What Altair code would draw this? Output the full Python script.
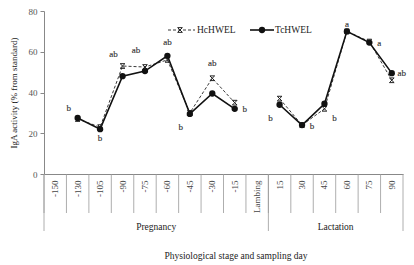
import altair as alt
import pandas as pd

categories = ["-150", "-130", "-105", "-90", "-75", "-60", "-45", "-30", "-15",
              "Lambing", "15", "30", "45", "60", "75", "90"]
phase = ["Pregnancy"] * 9 + ["Lambing"] + ["Lactation"] * 6
hc = [None, 27, 23, 53, 52.5, 56, 30, 47, 35, None, 37, 24, 32, 70, 65, 46]
tc = [None, 27.5, 22, 48, 50.5, 58, 29.5, 39.5, 32, None, 34, 24, 34.5, 70, 64.5, 49.5]

# significance letters: category, y value, letter, side
let_cat = ["-130", "-105", "-90", "-75", "-60", "-45", "-30", "-15",
           "15", "30", "45", "60", "75", "90"]
let_y = [32.5, 17.5, 59, 61, 65, 23, 54.5, 32, 27.5, 23.5, 27.5, 73.5, 64.5, 49.5]
let_txt = ["b", "b", "ab", "ab", "ab", "b", "ab", "b", "b", "b", "b", "a", "a", "ab"]
let_side = ["left", "center", "left", "left", "center", "left", "center", "right",
            "left", "right", "right", "center", "right", "right"]

W, H = 359, 163
FONT = "Liberation Serif"

rows = []
for c, p, h, t in zip(categories, phase, hc, tc):
    if h is not None:
        rows.append({"cat": c, "phase": p, "series": "HcHWEL", "v": h})
    if t is not None:
        rows.append({"cat": c, "phase": p, "series": "TcHWEL", "v": t})
df = pd.DataFrame(rows)
lets = pd.DataFrame({"cat": let_cat, "y": let_y, "t": let_txt, "side": let_side})
cats = pd.DataFrame({"cat": categories})

xscale = alt.Scale(domain=categories, paddingInner=0, paddingOuter=0)
yscale = alt.Scale(domain=[0, 80])

xenc = alt.X("cat:N", scale=xscale, sort=categories,
             axis=alt.Axis(title=None, labelAngle=270, labelAlign="right",
                           labelBaseline="middle", labelPadding=6, ticks=False,
                           labelFont=FONT, labelFontSize=9, labelColor="#444",
                           domainColor="#888", labelOverlap=False))
yenc = alt.Y("v:Q", scale=yscale,
             axis=alt.Axis(title="IgA activity (% from standard)", values=list(range(0, 81, 10)),
                           grid=False, tickSize=4, tickColor="#888", domainColor="#888",
                           labelFont=FONT, labelFontSize=9, labelColor="#555",
                           titleFont=FONT, titleFontSize=9, titleFontWeight="normal",
                           titleColor="#222", titlePadding=10, labelPadding=3))

base = alt.Chart(df)
hc_line = base.transform_filter(alt.datum.series == "HcHWEL").mark_line(
    color="#222", strokeWidth=0.9, strokeDash=[3, 2]).encode(x=xenc, y=yenc, detail="phase:N")
tc_line = base.transform_filter(alt.datum.series == "TcHWEL").mark_line(
    color="#111", strokeWidth=1.6).encode(x=xenc, y=yenc, detail="phase:N")
hc_pts = base.transform_filter(alt.datum.series == "HcHWEL").mark_point(
    shape="M-1,-1L1,1M-1,1L1,-1M-1,-1L1,-1M-1,1L1,1", filled=False, color="#222",
    strokeWidth=1, size=22, opacity=1).encode(x=xenc, y=yenc)
tc_pts = base.transform_filter(alt.datum.series == "TcHWEL").mark_circle(
    color="#111", size=40, opacity=1).encode(x=xenc, y=yenc)

def letters(side, dx):
    return alt.Chart(lets).transform_filter(alt.datum.side == side).mark_text(
        font=FONT, fontSize=9, dx=dx, align="center", baseline="middle",
        fill="#333333", stroke="#333333", strokeWidth=0.15
    ).encode(x=alt.X("cat:N", scale=xscale), y=alt.Y("y:Q", scale=yscale), text="t:N")

lab = [letters("left", -9), letters("center", 0), letters("right", 10)]

short_rules = alt.Chart(cats).mark_rule(color="#999", strokeWidth=0.8).encode(
    x=alt.X("cat:N", scale=xscale, bandPosition=0), y=alt.value(H), y2=alt.value(H + 39))
long_rules = alt.Chart(cats).transform_filter(
    alt.FieldOneOfPredicate(field="cat", oneOf=["-150", "15"])).mark_rule(
    color="#999", strokeWidth=0.8).encode(
    x=alt.X("cat:N", scale=xscale, bandPosition=0), y=alt.value(H), y2=alt.value(H + 57))
edge_rule = alt.Chart(cats).transform_filter(alt.datum.cat == "90").mark_rule(
    color="#999", strokeWidth=0.8).encode(x=alt.value(W), y=alt.value(H), y2=alt.value(H + 57))

groups = pd.DataFrame({"cat": ["-60", "60"], "g": ["Pregnancy", "Lactation"]})
group_txt = alt.Chart(groups).mark_text(font=FONT, fontSize=9.5, fill="#222").encode(
    x=alt.X("cat:N", scale=xscale, bandPosition=0), y=alt.value(H + 53), text="g:N")
xtitle = alt.Chart(cats).transform_filter(alt.datum.cat == "90").mark_text(
    font=FONT, fontSize=9.5, fill="#222").encode(
    x=alt.value(192), y=alt.value(H + 82), text=alt.value("Physiological stage and sampling day"))

# legend
leg = alt.Chart(cats).transform_filter(alt.datum.cat == "90")
leg_hc_line = leg.mark_rule(color="#222", strokeWidth=0.9, strokeDash=[3, 2]).encode(
    x=alt.value(124), x2=alt.value(151), y=alt.value(19))
leg_hc_pt = leg.mark_point(shape="M-1,-1L1,1M-1,1L1,-1M-1,-1L1,-1M-1,1L1,1", filled=False,
                           color="#222", strokeWidth=1, size=22, opacity=1).encode(
    x=alt.value(136), y=alt.value(19))
leg_hc_txt = leg.mark_text(font=FONT, fontSize=9.5, fill="#222", align="left").encode(
    x=alt.value(153), y=alt.value(19), text=alt.value("HcHWEL"))
leg_tc_line = leg.mark_rule(color="#111", strokeWidth=1.6).encode(
    x=alt.value(206), x2=alt.value(230), y=alt.value(19))
leg_tc_pt = leg.mark_circle(color="#111", size=40, opacity=1).encode(
    x=alt.value(218), y=alt.value(19))
leg_tc_txt = leg.mark_text(font=FONT, fontSize=9.5, fill="#222", align="left").encode(
    x=alt.value(231), y=alt.value(19), text=alt.value("TcHWEL"))

chart = alt.layer(
    short_rules, long_rules, edge_rule,
    hc_line, tc_line, hc_pts, tc_pts, *lab, group_txt, xtitle,
    leg_hc_line, leg_hc_pt, leg_hc_txt, leg_tc_line, leg_tc_pt, leg_tc_txt
).properties(
    width=W, height=H,
    autosize=alt.AutoSizeParams(type="none"),
    padding={"left": 44, "top": 11, "right": 11, "bottom": 91},
    background="white"
).configure_view(stroke=None)

chart.save("out.html", embed_options={"renderer": "svg", "actions": False})
